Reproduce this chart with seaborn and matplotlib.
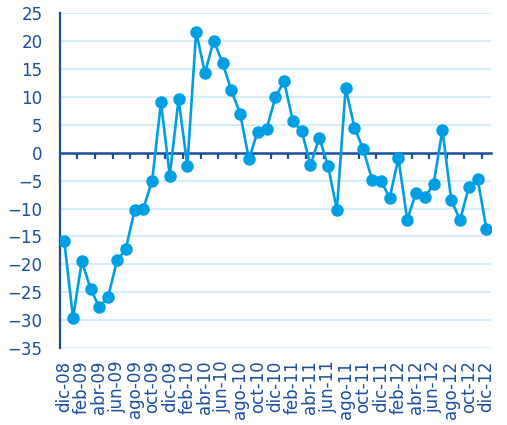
import seaborn as sns
import matplotlib.pyplot as plt
import pandas as pd

# monthly values, dic-08 .. dic-12
months = ['dic-08', 'ene-09', 'feb-09', 'mar-09', 'abr-09', 'may-09', 'jun-09', 'jul-09',
          'ago-09', 'sep-09', 'oct-09', 'nov-09', 'dic-09', 'ene-10', 'feb-10', 'mar-10',
          'abr-10', 'may-10', 'jun-10', 'jul-10', 'ago-10', 'sep-10', 'oct-10', 'nov-10',
          'dic-10', 'ene-11', 'feb-11', 'mar-11', 'abr-11', 'may-11', 'jun-11', 'jul-11',
          'ago-11', 'sep-11', 'oct-11', 'nov-11', 'dic-11', 'ene-12', 'feb-12', 'mar-12',
          'abr-12', 'may-12', 'jun-12', 'jul-12', 'ago-12', 'sep-12', 'oct-12', 'nov-12',
          'dic-12']
values = [-15.8, -29.6, -19.4, -24.4, -27.7, -25.8, -19.3, -17.3, -10.3, -10.0,
          -5.0, 9.0, -4.1, 9.6, -2.3, 21.7, 14.3, 20.1, 16.1, 11.2,
          7.0, -1.1, 3.8, 4.2, 9.9, 12.8, 5.6, 3.9, -2.2, 2.7,
          -2.4, -10.2, 11.6, 4.5, 0.6, -4.8, -5.0, -8.1, -1.0, -12.0,
          -7.2, -8.0, -5.6, 4.1, -8.4, -12.1, -6.2, -4.7, -13.6]
y_ticks = list(range(-35, 30, 5))

df = pd.DataFrame({'pos': range(len(months)), 'value': values})

line_col = '#009fe3'
axis_col = '#1a4d9b'
grid_col = '#cdeaf8'

sns.set_style("white")
plt.rcParams['font.family'] = ['DejaVu Sans']

fig = plt.figure(figsize=(5.07, 4.25), dpi=100)
ax = fig.add_axes([0.118, 0.181, 0.85, 0.788])

for v in y_ticks:
    if v != 0:
        ax.axhline(v, color=grid_col, lw=1.2, zorder=0)

sns.lineplot(data=df, x='pos', y='value', color=line_col, lw=1.9,
             marker='o', markersize=9, markeredgewidth=0, ax=ax, zorder=3)

ax.set_xlim(-0.5, len(months) - 0.5)
ax.set_ylim(-35, 25)
ax.set_yticks(y_ticks)
ax.set_xticks(range(0, len(months), 2))
ax.set_xticklabels(months[::2], rotation=90)
ax.set_xlabel('')
ax.set_ylabel('')

for s in ['top', 'right', 'bottom']:
    ax.spines[s].set_visible(False)
ax.spines['left'].set_color(axis_col)
ax.spines['left'].set_linewidth(1.6)

ax.tick_params(axis='y', colors=axis_col, labelsize=12, length=4.5, width=1.6,
               direction='out', pad=8)
ax.tick_params(axis='x', colors=axis_col, labelsize=12, length=0, pad=9)

# zero line with its own tick marks between categories
zero_frac = 35 / 60
sec = ax.secondary_xaxis(zero_frac)
sec.set_xticks([i + 0.5 for i in range(1, len(months) - 1, 2)])
sec.set_xticklabels([])
sec.spines['bottom'].set_color(axis_col)
sec.spines['bottom'].set_linewidth(1.8)
sec.spines['top'].set_color(axis_col)
sec.spines['top'].set_linewidth(1.8)
sec.tick_params(axis='x', colors=axis_col, length=4, width=1.6, direction='in')

fig.savefig('out.png', dpi=100)
